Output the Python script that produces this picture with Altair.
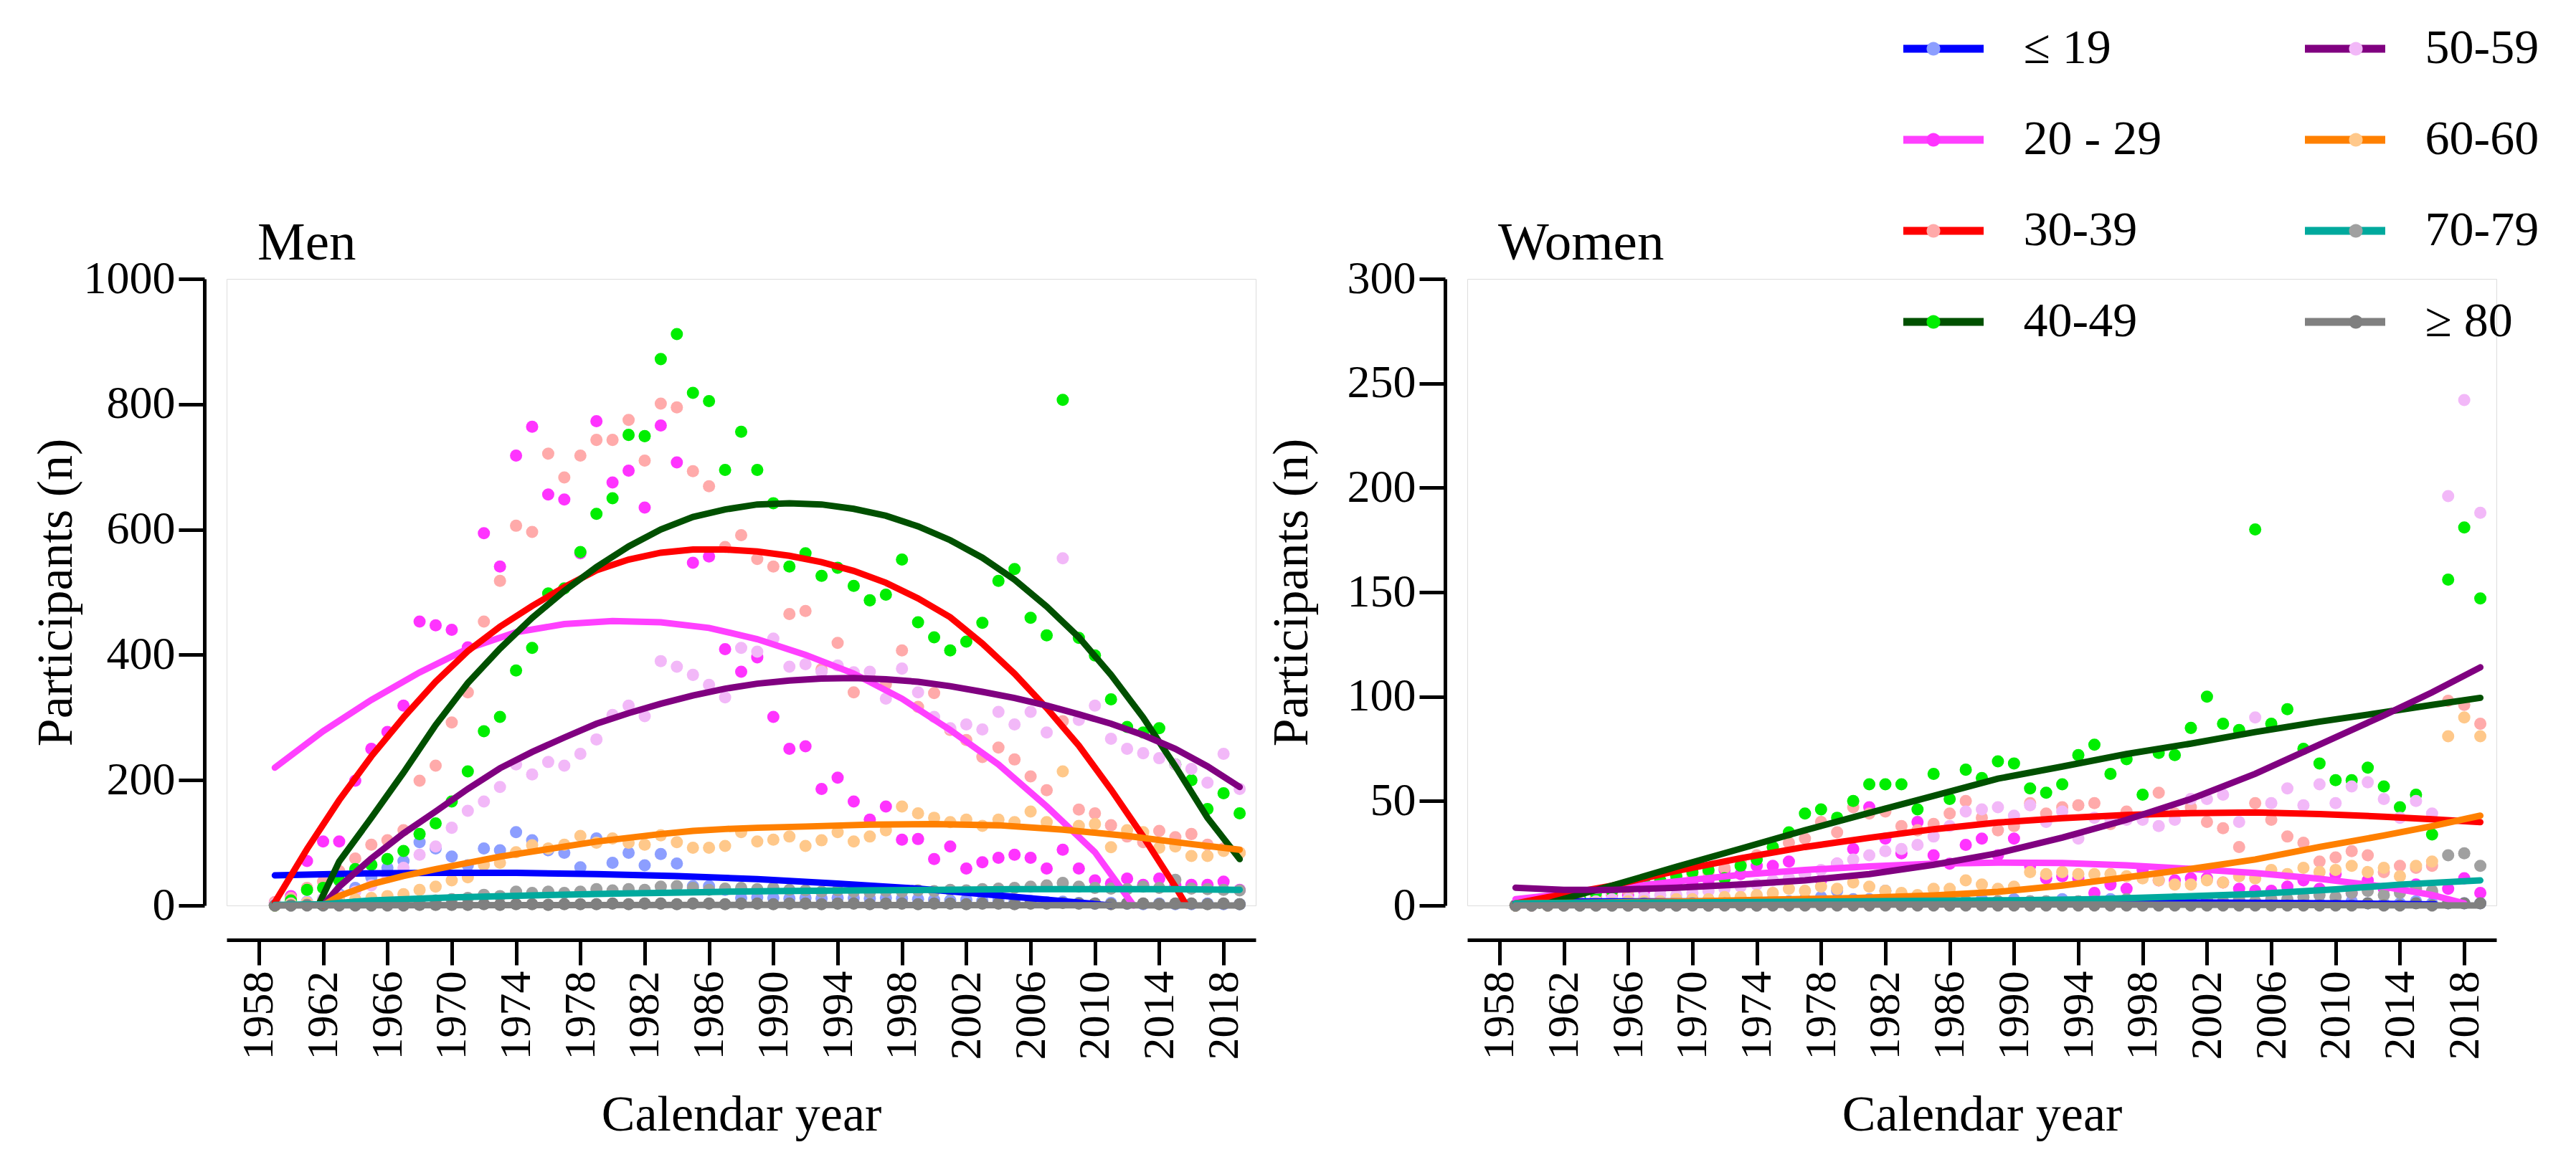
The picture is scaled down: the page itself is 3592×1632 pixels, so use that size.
import altair as alt
import pandas as pd

FONT = "Liberation Serif"

YEARS = list(range(1959, 2020))
GROUPS = ["≤ 19", "20 - 29", "30-39", "40-49", "50-59", "60-60", "70-79", "≥ 80"]
LINE_COLORS = ["#0000FF", "#FF40FF", "#FF0000", "#005000", "#800080", "#FF8000", "#00A99D", "#808080"]
POINT_COLORS = ["#8C9EFF", "#FF33FF", "#FFAAAA", "#00EE00", "#F2B8F8", "#FFC88A", "#A0A0A0", "#7F7F7F"]
X_TICKS = [1958, 1962, 1966, 1970, 1974, 1978, 1982, 1986, 1990, 1994, 1998, 2002, 2006, 2010, 2014, 2018]
MEN_Y_TICKS = [0, 200, 400, 600, 800, 1000]
WOMEN_Y_TICKS = [0, 50, 100, 150, 200, 250, 300]

# ---- Men: participants per calendar year (1959..2019) ----
MEN_19 = [2, 3, 6, 10, 18, 28, 45, 60, 71, 101,
          91, 78, 64, 91, 88, 117, 104, 88, 84, 61,
          107, 68, 84, 64, 82, 67, 31, 31, 25, 12,
          13, 12, 11, 12, 11, 12, 12, 11, 12, 11,
          10, 9, 8, 9, 7, 8, 6, 7, 5, 6,
          4, 3, 4, 3, 2, 3, 2, 2, 3, 2, 2]
MEN_20 = [5, 15, 71, 102, 102, 199, 250, 277, 319, 453,
          447, 440, 412, 594, 541, 718, 764, 656, 648, 562,
          773, 675, 694, 635, 766, 707, 547, 557, 409, 373,
          396, 301, 250, 254, 186, 204, 166, 137, 158, 105,
          106, 74, 94, 59, 69, 76, 81, 76, 59, 89,
          59, 40, 35, 43, 33, 43, 32, 33, 33, 38, 25]
MEN_30 = [5, 12, 28, 38, 55, 75, 97, 104, 120, 199,
          223, 292, 340, 453, 518, 606, 596, 721, 683, 718,
          743, 743, 775, 710, 801, 795, 693, 669, 572, 591,
          553, 541, 465, 470, 377, 419, 340, 363, 353, 407,
          317, 339, 280, 264, 237, 252, 233, 206, 184, 294,
          153, 147, 128, 110, 101, 119, 109, 114, 97, 91, 84]
MEN_40 = [0, 8, 25, 28, 40, 58, 65, 74, 87, 114,
          131, 166, 214, 278, 301, 375, 411, 498, 506, 564,
          625, 650, 751, 749, 872, 912, 818, 805, 695, 756,
          695, 642, 541, 562, 526, 539, 510, 487, 496, 552,
          452, 428, 407, 421, 451, 518, 537, 459, 431, 807,
          427, 399, 329, 285, 276, 283, 225, 200, 154, 179, 147]
MEN_50 = [2, 3, 5, 10, 15, 22, 32, 45, 60, 81,
          94, 124, 151, 166, 189, 225, 209, 229, 223, 242,
          265, 304, 319, 302, 390, 381, 368, 352, 332, 411,
          405, 426, 381, 385, 373, 383, 372, 373, 330, 378,
          340, 301, 283, 289, 281, 309, 289, 309, 276, 554,
          296, 319, 266, 250, 243, 235, 225, 218, 196, 242, 186]
MEN_60 = [0, 2, 4, 6, 8, 10, 12, 15, 18, 25,
          30, 40, 45, 65, 68, 85, 96, 91, 97, 111,
          100, 107, 100, 97, 112, 101, 92, 92, 95, 117,
          102, 105, 110, 95, 104, 117, 102, 110, 120, 158,
          147, 140, 133, 137, 127, 137, 133, 150, 133, 214,
          127, 130, 93, 120, 117, 92, 94, 79, 79, 87, 84]
MEN_70 = [0, 0, 1, 1, 2, 2, 3, 4, 5, 6,
          8, 10, 12, 17, 15, 22, 20, 22, 20, 22,
          26, 24, 26, 25, 30, 31, 28, 25, 27, 28,
          26, 28, 25, 24, 22, 24, 22, 21, 23, 22,
          24, 23, 25, 24, 26, 27, 28, 30, 32, 36,
          30, 28, 27, 26, 30, 28, 41, 27, 26, 25, 24]
MEN_80 = [0, 0, 0, 0, 0, 0, 0, 0, 0, 1,
          1, 1, 1, 2, 1, 2, 2, 1, 2, 2,
          2, 3, 2, 3, 3, 2, 3, 3, 2, 3,
          3, 2, 3, 3, 2, 3, 3, 2, 3, 3,
          2, 3, 3, 2, 3, 3, 2, 3, 3, 4,
          3, 3, 2, 3, 3, 2, 3, 3, 2, 3, 2]

# ---- Women: participants per calendar year (1959..2019) ----
WOMEN_19 = [0, 0, 1, 1, 1, 1, 2, 1, 2, 2,
            2, 3, 2, 3, 2, 3, 3, 2, 3, 4,
            7, 3, 3, 7, 4, 3, 2, 3, 2, 3,
            2, 3, 2, 2, 3, 2, 2, 3, 2, 2,
            2, 1, 2, 2, 1, 2, 1, 2, 1, 2,
            1, 1, 2, 1, 1, 1, 2, 1, 1, 1, 1]
WOMEN_20 = [0, 1, 1, 2, 3, 4, 5, 5, 7, 8,
            10, 10, 12, 17, 15, 19, 19, 21, 15, 12,
            20, 27, 47, 32, 25, 40, 24, 20, 29, 32,
            24, 32, 19, 13, 14, 13, 6, 10, 8, 17,
            12, 12, 13, 13, 11, 8, 7, 7, 9, 12,
            8, 15, 6, 12, 8, 7, 10, 6, 8, 13, 6]
WOMEN_30 = [0, 1, 2, 3, 3, 4, 6, 7, 9, 11,
            13, 15, 16, 18, 21, 24, 28, 30, 32, 40,
            35, 47, 44, 45, 38, 36, 39, 44, 50, 42,
            36, 38, 49, 44, 47, 48, 49, 39, 45, 42,
            54, 44, 47, 40, 37, 28, 49, 41, 33, 30,
            21, 23, 26, 24, 16, 19, 18, 19, 98, 96, 87]
WOMEN_40 = [0, 1, 2, 3, 4, 6, 7, 9, 11, 12,
            14, 16, 17, 13, 19, 22, 28, 35, 44, 46,
            42, 50, 58, 58, 58, 46, 63, 51, 65, 61,
            69, 68, 56, 54, 58, 72, 77, 63, 70, 53,
            73, 72, 85, 100, 87, 84, 180, 87, 94, 75,
            68, 60, 60, 66, 57, 47, 53, 34, 156, 181, 147]
WOMEN_50 = [0, 0, 1, 1, 2, 2, 3, 3, 4, 5,
            5, 6, 7, 8, 9, 10, 12, 13, 15, 17,
            20, 22, 24, 26, 27, 29, 33, 38, 45, 46,
            47, 43, 48, 40, 45, 32, 42, 41, 41, 41,
            38, 41, 51, 51, 53, 40, 90, 49, 56, 48,
            58, 49, 57, 59, 51, 42, 50, 44, 196, 242, 188]
WOMEN_60 = [0, 0, 0, 1, 1, 1, 1, 2, 2, 2,
            3, 3, 3, 4, 4, 5, 6, 8, 7, 9,
            8, 11, 9, 7, 6, 5, 8, 8, 12, 10,
            8, 9, 16, 15, 16, 15, 15, 15, 14, 13,
            12, 10, 10, 12, 11, 14, 13, 17, 15, 18,
            16, 17, 19, 16, 18, 14, 19, 21, 81, 90, 81]
WOMEN_70 = [0, 0, 0, 0, 0, 0, 0, 0, 1, 0,
            0, 1, 0, 1, 1, 0, 1, 1, 1, 1,
            1, 1, 2, 1, 1, 2, 1, 1, 2, 1,
            2, 1, 2, 2, 1, 2, 2, 2, 3, 2,
            2, 3, 2, 3, 2, 3, 2, 3, 3, 4,
            5, 4, 6, 7, 5, 6, 8, 7, 24, 25, 19]
WOMEN_80 = [0, 0, 0, 0, 0, 0, 0, 0, 0, 0,
            0, 0, 0, 0, 0, 0, 0, 0, 0, 0,
            0, 0, 0, 0, 0, 0, 0, 0, 0, 0,
            0, 0, 0, 0, 0, 0, 0, 0, 0, 0,
            0, 0, 0, 0, 0, 0, 0, 0, 0, 0,
            0, 0, 0, 1, 0, 0, 1, 0, 1, 1, 1]

# ---- Fitted trend curves (year, value) ----
FM_19_X = [1959, 1964, 1969, 1974, 1979, 1984, 1989, 1994, 1999, 2004, 2008, 2011]
FM_19_Y = [48, 51, 52, 52, 50, 47, 42, 35, 27, 16, 7, 0]
FM_20_X = [1959, 1962, 1965, 1968, 1971, 1974, 1977, 1980, 1983, 1986, 1989, 1992, 1995, 1998, 2001, 2004, 2007, 2010, 2012.4]
FM_20_Y = [220, 278, 328, 372, 410, 436, 449, 454, 452, 443, 425, 400, 370, 330, 280, 225, 158, 85, 0]
FM_30_X = [1959, 1961, 1963, 1965, 1967, 1969, 1971, 1973, 1975, 1977, 1979, 1981, 1983, 1985, 1987, 1989, 1991,
           1993, 1995, 1997, 1999, 2001, 2003, 2005, 2007, 2009, 2011, 2013, 2015, 2015.7]
FM_30_Y = [5, 90, 168, 238, 300, 357, 406, 445, 478, 508, 535, 552, 563, 568, 568, 565, 558,
           548, 534, 515, 490, 460, 418, 370, 315, 255, 185, 110, 30, 0]
FM_40_X = [1961.7, 1963, 1965, 1967, 1969, 1971, 1973, 1975, 1977, 1979, 1981, 1983, 1985, 1987, 1989, 1991,
           1993, 1995, 1997, 1999, 2001, 2003, 2005, 2007, 2009, 2011, 2013, 2015, 2017, 2019]
FM_40_Y = [0, 70, 140, 212, 288, 355, 410, 459, 502, 540, 573, 600, 620, 632, 640, 642,
           640, 633, 622, 605, 583, 555, 520, 477, 428, 368, 300, 222, 140, 74]
FM_50_X = [1962, 1963, 1965, 1967, 1969, 1971, 1973, 1975, 1977, 1979, 1981, 1983, 1985, 1987, 1989, 1991,
           1993, 1995, 1997, 1999, 2001, 2003, 2005, 2007, 2009, 2011, 2013, 2015, 2017, 2019]
FM_50_Y = [0, 30, 75, 115, 150, 186, 219, 245, 268, 290, 307, 322, 335, 346, 354, 359,
           362, 363, 361, 357, 350, 341, 331, 319, 305, 290, 272, 250, 222, 189]
FM_60_X = [1962, 1963, 1965, 1967, 1969, 1971, 1973, 1975, 1977, 1979, 1981, 1983, 1985, 1987, 1989, 1992,
           1996, 2000, 2004, 2008, 2012, 2016, 2019]
FM_60_Y = [0, 15, 34, 47, 58, 68, 78, 86, 94, 102, 108, 114, 119, 122, 124, 126,
           129, 130, 128, 121, 111, 98, 89]
FM_70_X = [1959, 1962, 1965, 1970, 1975, 1980, 1985, 1990, 1995, 2000, 2005, 2010, 2015, 2019]
FM_70_Y = [1, 2, 8, 13, 16, 19, 21, 23, 24, 25, 26, 26, 26, 25]
FM_80_X = [1959, 1989, 2019]
FM_80_Y = [0, 1, 0]

FW_19_X = [1959, 1970, 1980, 1990, 2000, 2010, 2016.2]
FW_19_Y = [2, 2, 2, 2, 1.5, 1, 0.5]
FW_20_X = [1959, 1962, 1965, 1969, 1973, 1977, 1981, 1985, 1989, 1993, 1997, 2001, 2005, 2009, 2013, 2016, 2018]
FW_20_Y = [3, 5.5, 8, 11.5, 14.7, 17, 18.7, 20, 20.5, 20.3, 19.2, 17.5, 15.5, 12.8, 9, 5, 1]
FW_30_X = [1959, 1961, 1965, 1969, 1973, 1977, 1981, 1985, 1989, 1993, 1997, 2001, 2005, 2009, 2013, 2016, 2019]
FW_30_Y = [1, 4, 9.5, 16.5, 22.6, 28, 32.4, 36.5, 39.7, 41.8, 43.3, 44.2, 44.5, 43.8, 42.5, 41.3, 39.9]
FW_40_X = [1960.5, 1965, 1969, 1973, 1977, 1981, 1985, 1989, 1993, 1997, 2001, 2005, 2009, 2013, 2016, 2019]
FW_40_Y = [0, 9.5, 18.5, 27.2, 36, 44.3, 52.5, 60.7, 66.5, 72.5, 77.5, 83, 88, 92.5, 96, 99.4]
FW_50_X = [1959, 1962, 1965, 1969, 1973, 1977, 1981, 1985, 1989, 1993, 1997, 2001, 2005, 2009, 2013, 2016, 2019]
FW_50_Y = [8.5, 7.5, 7.5, 8.5, 10, 12, 15, 19.5, 25, 32.5, 41, 51, 63, 77, 91, 102, 114]
FW_60_X = [1959, 1965, 1970, 1975, 1980, 1985, 1989, 1993, 1997, 2001, 2005, 2009, 2013, 2016, 2019]
FW_60_Y = [1, 1.5, 2, 2.8, 3.5, 4.8, 6.5, 9.5, 13.5, 17.5, 22, 28, 33.5, 38, 43]
FW_70_X = [1959, 1970, 1980, 1990, 1995, 2000, 2005, 2010, 2014, 2019]
FW_70_Y = [1, 1.5, 2, 2.5, 3, 4.2, 5.5, 7.7, 10, 12]
FW_80_X = [1959, 1989, 2019]
FW_80_Y = [0, 0.5, 0]

MEN_POINTS = [MEN_19, MEN_20, MEN_30, MEN_40, MEN_50, MEN_60, MEN_70, MEN_80]
WOMEN_POINTS = [WOMEN_19, WOMEN_20, WOMEN_30, WOMEN_40, WOMEN_50, WOMEN_60, WOMEN_70, WOMEN_80]
MEN_FITS = [(FM_19_X, FM_19_Y), (FM_20_X, FM_20_Y), (FM_30_X, FM_30_Y), (FM_40_X, FM_40_Y),
            (FM_50_X, FM_50_Y), (FM_60_X, FM_60_Y), (FM_70_X, FM_70_Y), (FM_80_X, FM_80_Y)]
WOMEN_FITS = [(FW_19_X, FW_19_Y), (FW_20_X, FW_20_Y), (FW_30_X, FW_30_Y), (FW_40_X, FW_40_Y),
              (FW_50_X, FW_50_Y), (FW_60_X, FW_60_Y), (FW_70_X, FW_70_Y), (FW_80_X, FW_80_Y)]


def points_frame(series):
    rows = []
    for g, vals in zip(GROUPS, series):
        for yr, v in zip(YEARS, vals):
            rows.append({"group": g, "year": yr, "n": v})
    return pd.DataFrame(rows)


def fits_frame(fits):
    rows = []
    for g, (xs, ys) in zip(GROUPS, fits):
        for xv, yv in zip(xs, ys):
            rows.append({"series": g, "year": xv, "n": yv})
    return pd.DataFrame(rows)


# fill scale takes its domain from the data (sorted as GROUPS), stroke scale is explicit,
# so that Vega-Lite keeps the two legends separate and they can be stacked on each other.
fill_scale = alt.Scale(range=POINT_COLORS)
stroke_scale = alt.Scale(domain=GROUPS, range=LINE_COLORS)

LEG_X = 2332.5
LEG_Y = -371
SYM_SIZE = 12544          # legend line length 112 px
DOT_PATH = "M-0.17,0A0.17,0.17 0 1,0 0.17,0A0.17,0.17 0 1,0 -0.17,0Z"   # dot of radius ~9.5 px

common_leg = dict(title=None, orient="none", legendX=LEG_X, legendY=LEG_Y, direction="vertical",
                  columns=2, rowPadding=27, clipHeight=100, labelFont=FONT,
                  labelFontSize=68, labelLimit=400, padding=0, offset=0,
                  symbolSize=SYM_SIZE, symbolStrokeWidth=11, labelOffset=50)
stroke_legend = alt.Legend(symbolType="stroke", labelColor="black", columnPadding=194,
                           zindex=1, **common_leg)
fill_legend = alt.Legend(symbolType=DOT_PATH, symbolStrokeColor="transparent", symbolOpacity=1,
                         symbolOffset=-14, labelExpr="''", columnPadding=430, zindex=2, **common_leg)

axis_style = dict(domainColor="black", domainWidth=5, tickColor="black", tickWidth=5,
                  labelFont=FONT, labelColor="black", titleFont=FONT,
                  titleFontSize=70, titleFontWeight="normal", titleColor="black", grid=False,
                  labelFlush=False, labelOverlap=False)


def panel(pts, fits, ymax, yticks, title, ytitle_pad):
    x_enc = alt.X("year:Q", scale=alt.Scale(domain=[1956, 2020], nice=False, zero=False),
                  axis=alt.Axis(values=X_TICKS, format="d", labelAngle=270, title="Calendar year",
                                offset=48, tickSize=35, labelPadding=8, titlePadding=43,
                                labelFontSize=62, **axis_style))
    y_enc = alt.Y("n:Q", scale=alt.Scale(domain=[0, ymax], nice=False, zero=True),
                  axis=alt.Axis(values=yticks, format="d", title="Participants (n)", offset=31,
                                tickSize=36, labelPadding=5, titlePadding=ytitle_pad,
                                labelFontSize=64, **axis_style))
    dots = alt.Chart(pts).mark_circle(size=290, opacity=1).encode(
        x=x_enc, y=y_enc,
        fill=alt.Fill("group:N", sort=GROUPS, scale=fill_scale, legend=fill_legend))
    curves = alt.Chart(fits).mark_line(strokeWidth=9, strokeCap="round").encode(
        x=x_enc, y=y_enc, stroke=alt.Stroke("series:N", scale=stroke_scale, legend=stroke_legend))
    return alt.layer(dots, curves).properties(
        width=1435, height=874,
        title=alt.TitleParams(title, anchor="start", dx=43, offset=-21, fontSize=75, font=FONT,
                              fontWeight="normal", color="black", frame="group"))


men = panel(points_frame(MEN_POINTS), fits_frame(MEN_FITS), 1000, MEN_Y_TICKS, "Men", 2)
women = panel(points_frame(WOMEN_POINTS), fits_frame(WOMEN_FITS), 300, WOMEN_Y_TICKS, "Women", 41)

chart = alt.hconcat(men, women, spacing=295, bounds="flush").properties(
    autosize=alt.AutoSizeParams(type="none"),
    padding={"left": 308, "top": 381, "right": 3268, "bottom": 1235},
).configure_view(stroke=None).configure(background="white")

chart.save("out.html", embed_options={"renderer": "svg", "actions": False})
